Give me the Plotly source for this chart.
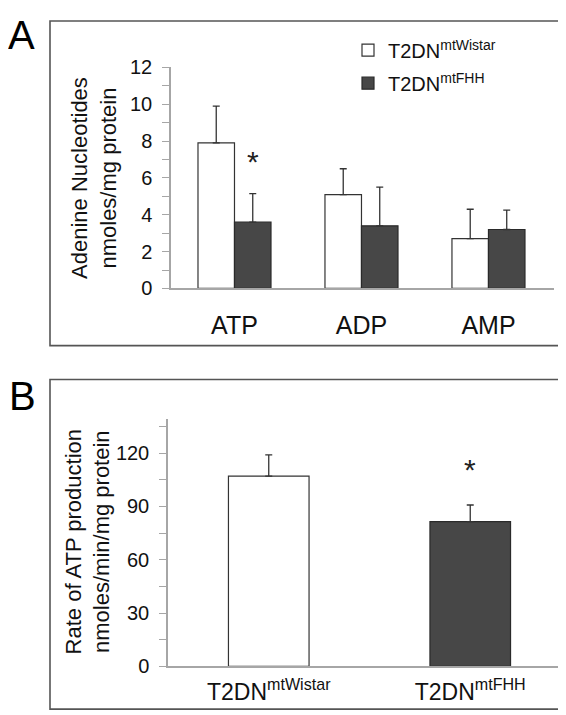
import plotly.graph_objects as go

# ---- data: panel A ----
nucleotides = ["ATP", "ADP", "AMP"]
wistar_nuc = [7.9, 5.1, 2.7]
wistar_nuc_err = [2.0, 1.4, 1.6]
fhh_nuc = [3.6, 3.4, 3.2]
fhh_nuc_err = [1.55, 2.1, 1.05]
sig_nuc_fhh = [True, False, False]  # asterisk above FHH bar (ATP only)

# ---- data: panel B ----
strains = ["T2DN<sup>mtWistar</sup>", "T2DN<sup>mtFHH</sup>"]
atp_rate = [107, 81.5]
atp_rate_err = [12, 9.3]
sig_rate = [False, True]

a_yticks = [0, 2, 4, 6, 8, 10, 12]
b_yticks = [0, 30, 60, 90, 120]

W, H = 566, 715
def px(x):
    return x / W
def py(y):
    return 1 - y / H

FONT = "Arial, Liberation Sans, Helvetica, sans-serif"
WHITE_LINE = "#333333"
DARK_FILL = "#474747"
DARK_LINE = "#2a2a2a"
AXIS_COL = "#a6a6a6"
ERR_COL = "#333333"

fig = go.Figure()
bw = 0.2875
fig.add_trace(go.Bar(
    x=list(range(len(nucleotides))), y=wistar_nuc, width=bw, offset=-bw,
    name="T2DN<sup>mtWistar</sup>", legendgroup="w",
    marker=dict(color="white", line=dict(color=WHITE_LINE, width=1.2)),
    error_y=dict(type="data", array=wistar_nuc_err, arrayminus=[0]*3, symmetric=False,
                 color=ERR_COL, thickness=1.3, width=3.5),
    xaxis="x", yaxis="y"))
fig.add_trace(go.Bar(
    x=list(range(len(nucleotides))), y=fhh_nuc, width=bw, offset=0,
    name="T2DN<sup>mtFHH</sup>", legendgroup="f",
    marker=dict(color=DARK_FILL, line=dict(color=DARK_LINE, width=1.2)),
    error_y=dict(type="data", array=fhh_nuc_err, arrayminus=[0]*3, symmetric=False,
                 color=ERR_COL, thickness=1.3, width=3.5),
    xaxis="x", yaxis="y"))

fig.add_trace(go.Bar(
    x=[0, 1], y=atp_rate, width=0.4, showlegend=False,
    marker=dict(color=["white", DARK_FILL], line=dict(color=[WHITE_LINE, DARK_LINE], width=1.2)),
    error_y=dict(type="data", array=atp_rate_err, arrayminus=[0]*2, symmetric=False,
                 color=ERR_COL, thickness=1.3, width=3.5),
    xaxis="x2", yaxis="y2"))

annotations = []
A_RANGE = [0, 12]
B_RANGE = [0, 139]
for i, s in enumerate(sig_nuc_fhh):
    if s:
        annotations.append(dict(x=i + bw / 2, y=fhh_nuc[i] + fhh_nuc_err[i] + 0.14 * A_RANGE[1],
                                xref="x", yref="y", text="*", showarrow=False,
                                font=dict(size=30, color="#222", family=FONT),
                                yanchor="middle", yshift=1))
for i, s in enumerate(sig_rate):
    if s:
        annotations.append(dict(x=i, y=atp_rate[i] + atp_rate_err[i] + 0.14 * B_RANGE[1],
                                xref="x2", yref="y2", text="*", showarrow=False,
                                font=dict(size=30, color="#222", family=FONT),
                                yanchor="middle", yshift=1))

annotations += [
    dict(x=0, y=py(2), xref="paper", yref="paper", text="A", showarrow=False,
         xanchor="left", yanchor="top", yshift=10, xshift=-2,
         font=dict(size=40, color="black", family=FONT)),
    dict(x=0, y=py(372), xref="paper", yref="paper", text="B", showarrow=False,
         xanchor="left", yanchor="top", yshift=8, xshift=-1,
         font=dict(size=40, color="black", family=FONT)),
    dict(x=px(86), y=py(164), xref="paper", yref="paper",
         text="Adenine Nucleotides<br>nmoles/mg protein", showarrow=False, textangle=-90,
         xanchor="center", yanchor="middle", font=dict(size=22, color="#111", family=FONT)),
    dict(x=px(80), y=py(540), xref="paper", yref="paper",
         text="Rate of ATP production<br>nmoles/min/mg protein", showarrow=False, textangle=-90,
         xanchor="center", yanchor="middle", font=dict(size=22, color="#111", family=FONT)),
]

shapes = [
    dict(type="rect", xref="paper", yref="paper", x0=px(42), x1=px(557), y0=py(337), y1=py(2),
         line=dict(color="#555", width=1.6)),
    dict(type="rect", xref="paper", yref="paper", x0=px(42), x1=px(557), y0=py(712), y1=py(372),
         line=dict(color="#555", width=1.6)),
]

fig.update_layout(
    width=W, height=H, margin=dict(l=0, r=0, t=0, b=0),
    paper_bgcolor="white", plot_bgcolor="white",
    font=dict(family=FONT, color="#111"),
    showlegend=True,
    legend=dict(x=px(340), y=py(12), xanchor="left", yanchor="top",
                font=dict(size=20, family=FONT, color="#111"), bgcolor="rgba(0,0,0,0)",
                traceorder="grouped", tracegroupgap=4),
    xaxis=dict(domain=[px(163), px(546)], range=[-0.5, 2.516], tickmode="array",
               tickvals=list(range(len(nucleotides))), ticktext=nucleotides,
               showline=True, linecolor=AXIS_COL, linewidth=1.5, ticks="", showgrid=False,
               zeroline=False, tickfont=dict(size=25, family=FONT, color="#111"),
               ticklabelstandoff=14, fixedrange=True),
    yaxis=dict(domain=[py(278), py(50)], range=A_RANGE, tickmode="array", tickvals=a_yticks,
               showline=True, linecolor=AXIS_COL, linewidth=1.5, ticks="outside", ticklen=7,
               tickcolor=AXIS_COL, tickwidth=1.2, showgrid=False, zeroline=False,
               minor=dict(dtick=1, ticks="outside", ticklen=7, tickcolor=AXIS_COL, tickwidth=1.2),
               tickfont=dict(size=20, family=FONT, color="#111"), ticklabelstandoff=6,
               anchor="x"),
    xaxis2=dict(domain=[px(160), px(564)], range=[-0.5, 1.505], tickmode="array",
                tickvals=[0, 1], ticktext=strains, anchor="y2",
                showline=True, linecolor=AXIS_COL, linewidth=1.5, ticks="", showgrid=False,
                zeroline=False, tickfont=dict(size=23, family=FONT, color="#111"),
                ticklabelstandoff=4),
    yaxis2=dict(domain=[py(668), py(413)], range=B_RANGE, tickmode="array", tickvals=b_yticks,
                showline=True, linecolor=AXIS_COL, linewidth=1.5, ticks="outside", ticklen=7,
                tickcolor=AXIS_COL, tickwidth=1.2, showgrid=False, zeroline=False,
                minor=dict(dtick=15, ticks="outside", ticklen=7, tickcolor=AXIS_COL, tickwidth=1.2),
                tickfont=dict(size=20, family=FONT, color="#111"), ticklabelstandoff=6,
                anchor="x2"),
    annotations=annotations, shapes=shapes,
)

fig.write_html("out.html")
